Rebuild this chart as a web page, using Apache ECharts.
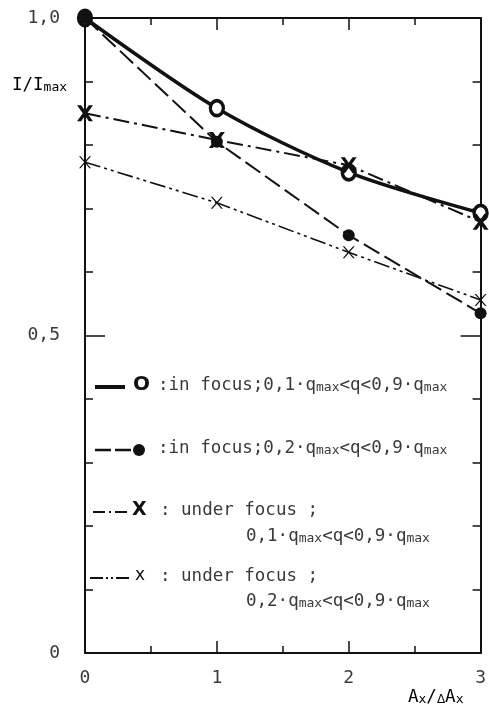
<!DOCTYPE html>
<html><head><meta charset="utf-8">
<script src="https://cdn.jsdelivr.net/npm/echarts@6/dist/echarts.min.js"></script>
<style>html,body{margin:0;padding:0;background:#fff}#c{width:489px;height:707px}</style>
</head><body><div id="c"></div>
<script>
// ---- data ----
const xValues = [0, 1, 2, 3];
const inFocus01 = [1.0, 0.858, 0.757, 0.693];     // solid, open circle
const inFocus02 = [1.0, 0.805, 0.658, 0.535];     // long dash, filled dot
const underFocus01 = [0.85, 0.808, 0.768, 0.679]; // dash-dot, bold X
const underFocus02 = [0.773, 0.709, 0.631, 0.556];// dash-dot-dot, thin x
const yTickLabels = { '0': '0', '0.5': '0,5', '1': '1,0' };
const xTickLabels = { '0': '0', '1': '1', '2': '2', '3': '3' };

const FONT = 'DejaVu Sans Mono';
const INK = '#111';
const TXT = '#3a3a3a';
const pts = arr => xValues.map((x, i) => [x, arr[i]]);

const bigX = 'path://M0,0L2.6,0L5,3.4L7.4,0L10,0L6.4,5L10,10L7.4,10L5,6.6L2.6,10L0,10L3.6,5Z';
const thinX = 'path://M0,0L1.3,0L5,4.2L8.7,0L10,0L5.7,5L10,10L8.7,10L5,5.8L1.3,10L0,10L4.3,5Z';

function xAx(pos, showLabel) {
  return {
    type: 'value', position: pos, min: 0, max: 3, interval: 1,
    axisLine: { onZero: false, lineStyle: { color: INK, width: 2 } },
    axisTick: { inside: true, length: 12, lineStyle: { color: INK, width: 1.5 } },
    minorTick: { show: true, splitNumber: 2, length: 7, lineStyle: { color: INK, width: 1.5 } },
    splitLine: { show: false },
    axisLabel: { show: showLabel, margin: 16, fontSize: 18, fontFamily: FONT, color: TXT,
      formatter: v => xTickLabels[String(v)] ?? '' }
  };
}
function yAx(pos, showLabel) {
  return {
    type: 'value', position: pos, min: 0, max: 1, interval: 0.5,
    axisLine: { onZero: false, lineStyle: { color: INK, width: 2 } },
    axisTick: { inside: true, length: 20, lineStyle: { color: INK, width: 1.5 } },
    minorTick: { show: true, splitNumber: 5, length: 8, lineStyle: { color: INK, width: 1.5 } },
    splitLine: { show: false },
    axisLabel: { show: showLabel, margin: 25, fontSize: 18, fontFamily: FONT, color: TXT,
      formatter: v => yTickLabels[String(v)] ?? '' }
  };
}

const rich = {
  n: { fontSize: 17.5, fontFamily: FONT, color: TXT, lineHeight: 22, verticalAlign: 'bottom' },
  s: { fontSize: 13, fontFamily: FONT, color: TXT, lineHeight: 13, verticalAlign: 'bottom' },
  d: { fontSize: 12, fontFamily: 'DejaVu Sans', color: TXT, lineHeight: 16, verticalAlign: 'bottom' }
};
const qRange = a => `{n|0,${a}·q}{s|max}{n|<q<0,9·q}{s|max}`;

function label(x, y, text) {
  return { type: 'text', left: x, top: y - 11, z: 10, style: { text, rich, fill: TXT } };
}
function sampleLine(x1, x2, y, width, dash) {
  return { type: 'line', z: 10, shape: { x1, y1: y, x2, y2: y },
    style: { stroke: INK, lineWidth: width, lineDash: dash } };
}
function glyph(x, y, ch, size, weight) {
  return { type: 'text', left: x, top: y - size * 0.62, z: 10,
    style: { text: ch, font: `${weight} ${size}px "DejaVu Sans"`, fill: INK } };
}

const option = {
  animation: false,
  backgroundColor: '#fff',
  grid: { left: 85, right: 4, top: 18, bottom: 54, containLabel: false },
  xAxis: [xAx('bottom', true), xAx('top', false)],
  yAxis: [yAx('left', true), yAx('right', false)],
  series: [
    { type: 'line', data: pts(inFocus01), smooth: 0.3, z: 3,
      lineStyle: { color: INK, width: 3.5 },
      symbol: 'circle', symbolSize: [13, 15],
      itemStyle: { color: '#fff', borderColor: INK, borderWidth: 3.5 } },
    { type: 'line', data: pts(inFocus02), z: 4,
      lineStyle: { color: INK, width: 2, type: [18, 6] },
      symbol: 'circle', symbolSize: 12,
      itemStyle: { color: INK, borderColor: INK, borderWidth: 0 } },
    { type: 'line', data: pts(underFocus01), z: 5,
      lineStyle: { color: INK, width: 2, type: [16, 5, 3, 5] },
      symbol: bigX, symbolSize: 16, symbolKeepAspect: true,
      itemStyle: { color: INK, borderWidth: 0 } },
    { type: 'line', data: pts(underFocus02), z: 5,
      lineStyle: { color: INK, width: 1.6, type: [16, 4, 3, 4, 3, 4] },
      symbol: thinX, symbolSize: 12, symbolKeepAspect: true,
      itemStyle: { color: INK, borderWidth: 0 } }
  ],
  graphic: [
    // axis names
    { type: 'text', left: 12, top: 76, style: { text: '{n|I/I}{s|max}', rich } },
    { type: 'text', left: 408, top: 688, style: { text: '{n|A}{s|x}{n|/}{d|Δ}{n|A}{s|x}', rich } },
    // legend item 1
    sampleLine(95, 125, 387, 4, null),
    glyph(133, 387, 'O', 20, 'bold'),
    label(158, 387, `{n|:in focus;}${qRange(1)}`),
    // legend item 2
    sampleLine(95, 133, 450, 2.5, [16, 4]),
    { type: 'circle', z: 10, shape: { cx: 139, cy: 450, r: 6 }, style: { fill: INK } },
    label(158, 450, `{n|:in focus;}${qRange(2)}`),
    // legend item 3
    sampleLine(93, 131, 512, 2.2, [12, 4, 2, 4]),
    glyph(132, 512, 'X', 19, 'bold'),
    label(160, 512, '{n|: under focus ;}'),
    label(246, 538, qRange(1)),
    // legend item 4
    sampleLine(90, 131, 578, 1.8, [13, 3, 2, 3, 2, 3]),
    glyph(135, 578, 'x', 17, 'normal'),
    label(160, 578, '{n|: under focus ;}'),
    label(246, 603, qRange(2))
  ]
};
echarts.init(document.getElementById('c'), null, { renderer: 'canvas' }).setOption(option);
</script>
</body></html>
